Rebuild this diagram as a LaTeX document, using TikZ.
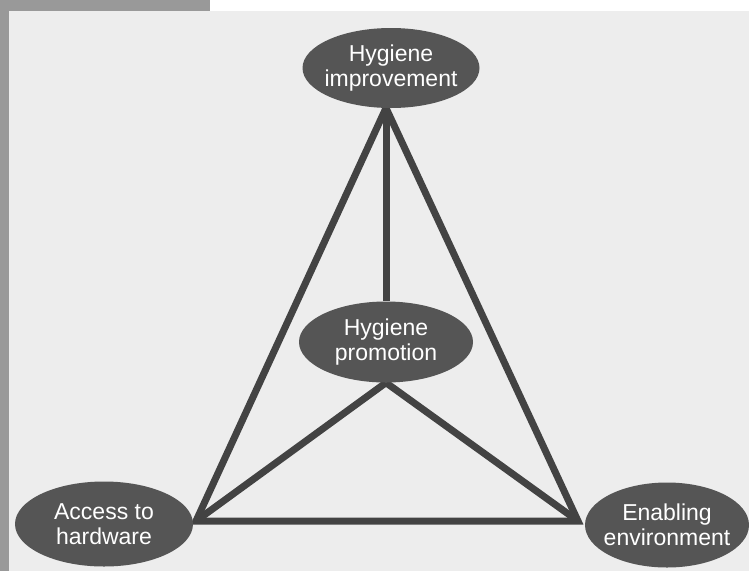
\documentclass[tikz,border=0pt]{standalone}
\usepackage{fontspec}
\setmainfont{Liberation Sans}
\usetikzlibrary{shapes.geometric,backgrounds}
\definecolor{bargray}{HTML}{999999}
\definecolor{paper}{HTML}{EDEDED}
\definecolor{ovalfill}{HTML}{555555}
\definecolor{linecol}{HTML}{434343}
\begin{document}
\begin{tikzpicture}[x=1pt,y=-1pt,
  oval/.style={ellipse, fill=ovalfill, inner xsep=-20pt, inner ysep=0pt, text=white, align=center,
    font=\fontsize{23}{25}\selectfont},
  link/.style={draw=linecol, line width=7pt}]
\useasboundingbox (0,0) rectangle (749,571);

\node[oval, minimum width=177pt, minimum height=80pt] (top) at (391,68) {Hygiene\\improvement};
\node[oval, minimum width=174pt, minimum height=81pt] (mid) at (386,342) {Hygiene\\promotion};
\node[oval, minimum width=178pt, minimum height=85pt] (left) at (104,524) {Access to\\hardware};
\node[oval, minimum width=164pt, minimum height=85pt] (right) at (667,525) {Enabling\\environment};

\coordinate (apex) at (386,108);
\coordinate (A) at (196,521);
\coordinate (B) at (578,521);

\begin{scope}[on background layer]
\fill[white] (0,0) rectangle (749,571);
\fill[bargray] (0,0) rectangle (210,11);
\fill[bargray] (0,0) rectangle (9,571);
\fill[paper] (9,11) rectangle (749,571);
\draw[link, line join=miter] (apex) -- (A) -- (B) -- cycle;
\draw[link] (apex) -- (mid.north);
\draw[link] (mid.south) -- (A);
\draw[link] (mid.south) -- (B);
\end{scope}
\end{tikzpicture}
\end{document}
